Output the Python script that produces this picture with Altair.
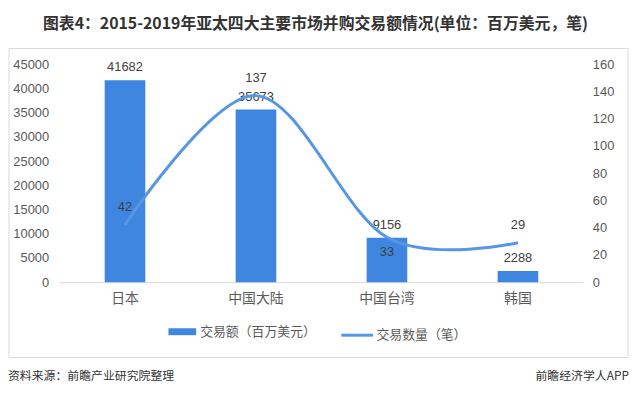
import altair as alt
import pandas as pd

categories = ["日本", "中国大陆", "中国台湾", "韩国"]
amount = [41682, 35673, 9156, 2288]
count = [42, 137, 33, 29]
label_below = [False, False, True, False]

BAR_NAME = "交易额（百万美元）"
LINE_NAME = "交易数量（笔）"
TITLE = "图表4：2015-2019年亚太四大主要市场并购交易额情况(单位：百万美元，笔)"
SOURCE = "资料来源：前瞻产业研究院整理"
BRAND = "前瞻经济学人APP"

df = pd.DataFrame({
    "cat": categories,
    "amount": amount,
    "count": count,
    "below": label_below,
    "s1": [BAR_NAME] * 4,
    "s2": [LINE_NAME] * 4,
})

CJK = "Noto Sans CJK SC"
NUM = "Liberation Sans"
BAR_C = "#3f86e0"
LINE_C = "#5596e6"
TXT = "#595959"

xenc = alt.X("cat:N", sort=categories, title=None,
             scale=alt.Scale(paddingInner=0, paddingOuter=0),
             axis=alt.Axis(labelAngle=0, ticks=False, tickSize=0, domainColor="#d9d9d9",
                           labelFont=CJK, labelFontSize=14, labelColor=TXT,
                           labelPadding=10, labelBaseline="top"))

base = alt.Chart(df).encode(x=xenc)

yl = alt.Y("amount:Q", title=None, scale=alt.Scale(domain=[0, 45000], nice=False),
           axis=alt.Axis(orient="left", values=list(range(0, 45001, 5000)), grid=False,
                         domain=False, ticks=False, tickSize=0, labelPadding=11,
                         labelFont=NUM, labelFontSize=13, labelColor=TXT, format="d"))
yr = alt.Y("count:Q", title=None, scale=alt.Scale(domain=[0, 160], nice=False),
           axis=alt.Axis(orient="right", values=list(range(0, 161, 20)), grid=False,
                         domain=False, ticks=False, tickSize=0, labelPadding=9,
                         labelFont=NUM, labelFontSize=13, labelColor=TXT, format="d"))

bars = base.mark_bar(size=41).encode(
    y=yl,
    color=alt.Color("s1:N", scale=alt.Scale(range=[BAR_C]),
                    legend=alt.Legend(orient="none", legendX=110, legendY=256, title=None,
                                      symbolType="M-1,-0.25H1V0.25H-1Z", symbolSize=784,
                                      symbolStrokeWidth=0, padding=0, labelOffset=4,
                                      labelFont=CJK, labelFontSize=13, labelColor=TXT)),
)
bar_text = base.mark_text(baseline="bottom", dy=-6, font=NUM, fontSize=13, color="#404040").encode(
    y=yl, text=alt.Text("amount:Q", format="d"))

line = base.mark_line(interpolate="cardinal", strokeWidth=3).encode(
    y=yr,
    stroke=alt.Stroke("s2:N", scale=alt.Scale(range=[LINE_C]),
                      legend=alt.Legend(orient="none", legendX=283, legendY=256, title=None,
                                        symbolType="stroke", symbolSize=1024,
                                        symbolStrokeWidth=3, padding=0, labelOffset=2,
                                        labelFont=CJK, labelFontSize=13, labelColor=TXT)),
)
lt_above = base.mark_text(baseline="middle", dy=-18, font=NUM, fontSize=13, color="#404040").encode(
    y=yr, text=alt.Text("count:Q", format="d")).transform_filter("!datum.below")
lt_below = base.mark_text(baseline="middle", dy=15, font=NUM, fontSize=13, color="#404040").encode(
    y=yr, text=alt.Text("count:Q", format="d")).transform_filter("datum.below")

one = pd.DataFrame({"a": [0]})
frame = alt.Chart(one).mark_rect(fill=None, stroke="#d9d9d9", strokeWidth=1).encode(
    x=alt.value(-51), x2=alt.value(574), y=alt.value(-16), y2=alt.value(296))
source = alt.Chart(one).mark_text(align="left", baseline="middle", font=CJK, fontSize=12,
                                  color="#333333").encode(
    x=alt.value(-52), y=alt.value(315), text=alt.value(SOURCE))
brand = alt.Chart(one).mark_text(align="right", baseline="middle", font=CJK, fontSize=12,
                                 color="#333333").encode(
    x=alt.value(575), y=alt.value(315), text=alt.value(BRAND))

left = alt.layer(bars, bar_text)
right = alt.layer(line, lt_above, lt_below)

chart = alt.layer(frame, left, right, source, brand).resolve_scale(
    y="independent", color="independent", stroke="independent"
).properties(
    width=529, height=220,
    padding={"left": 52, "top": 55, "right": 46, "bottom": 107},
    autosize=alt.AutoSizeParams(type="none"),
    title=alt.TitleParams(text=TITLE, font=CJK, fontSize=16, fontWeight="bold",
                          color="#333333", anchor="middle", frame="group",
                          dx=-6, offset=8, baseline="middle"),
).configure_view(stroke=None)

chart.save("out.html", embed_options={"renderer": "svg", "actions": False})
